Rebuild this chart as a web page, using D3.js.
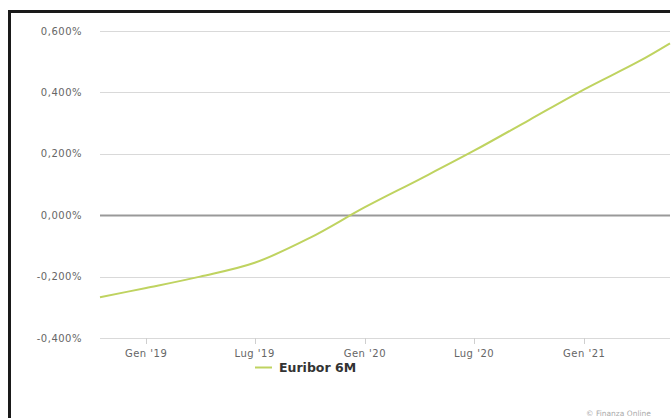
<!DOCTYPE html>
<html>
<head>
<meta charset="utf-8">
<script src="https://cdn.jsdelivr.net/npm/d3@7"></script>
<style>
  html, body { margin: 0; padding: 0; background: #fff; }
  svg { display: block; }
</style>
</head>
<body>
<div id="chart"></div>
<script>
// Euribor 6M curve, values in %
const dates = ['2018-10-16', '2019-01-01', '2019-04-01', '2019-07-01', '2019-10-01',
  '2020-01-01', '2020-04-01', '2020-07-01', '2020-10-01', '2021-01-01', '2021-04-01', '2021-05-24'];
const values = [-0.267, -0.237, -0.2, -0.155, -0.074,
  0.026, 0.117, 0.21, 0.31, 0.41, 0.5, 0.56];
const yTicks = [-0.4, -0.2, 0, 0.2, 0.4, 0.6];
const xTicks = ['2019-01-01', '2019-07-01', '2020-01-01', '2020-07-01', '2021-01-01'];
const xTickLabels = ["Gen '19", "Lug '19", "Gen '20", "Lug '20", "Gen '21"];
const seriesName = 'Euribor 6M';

const W = 671, H = 418;
const parse = d3.timeParse('%Y-%m-%d');
const data = dates.map((d, i) => ({ date: parse(d), value: values[i] }));

const svg = d3.select('#chart').append('svg')
  .attr('width', W).attr('height', H);

// frame (left + top only)
svg.append('path')
  .attr('d', `M9.5,${H} L9.5,11.5 L670,11.5`)
  .attr('fill', 'none').attr('stroke', '#1a1a1a').attr('stroke-width', 3);

const x = d3.scaleTime()
  .domain([parse('2018-10-16'), parse('2021-05-24')])
  .range([100, 670]);
const y = d3.scaleLinear().domain([-0.4, 0.6]).range([338, 31]);

const fmt = v => d3.format('.3f')(v).replace('.', ',').replace('−', '-') + '%';

// gridlines
svg.append('g').selectAll('line').data(yTicks).join('line')
  .attr('x1', 100).attr('x2', 670)
  .attr('y1', d => Math.round(y(d)) + 0.5).attr('y2', d => Math.round(y(d)) + 0.5)
  .attr('stroke', d => d === 0 ? '#999' : '#d9d9d9')
  .attr('stroke-width', d => d === 0 ? 2 : 1);

// y labels
svg.append('g').selectAll('text').data(yTicks).join('text')
  .attr('x', 82).attr('y', d => y(d))
  .attr('text-anchor', 'end').attr('dominant-baseline', 'central')
  .attr('font-family', 'DejaVu Sans').attr('font-size', 10)
  .attr('letter-spacing', 0.5)
  .attr('fill', '#666').text(fmt);

// x ticks
const xt = svg.append('g');
xt.selectAll('line').data(xTicks).join('line')
  .attr('x1', d => Math.round(x(parse(d))) + 0.5).attr('x2', d => Math.round(x(parse(d))) + 0.5)
  .attr('y1', 338).attr('y2', 344)
  .attr('stroke', '#cfcfcf');
xt.selectAll('text').data(xTicks).join('text')
  .attr('x', d => x(parse(d))).attr('y', 353)
  .attr('text-anchor', 'middle').attr('dominant-baseline', 'central')
  .attr('font-family', 'DejaVu Sans').attr('font-size', 10)
  .attr('letter-spacing', 0.5)
  .attr('fill', '#666').text((d, i) => xTickLabels[i]);

// series line
const line = d3.line().x(d => x(d.date)).y(d => y(d.value)).curve(d3.curveCatmullRom.alpha(0.5));
svg.append('path').datum(data)
  .attr('d', line)
  .attr('fill', 'none').attr('stroke', '#bfd360').attr('stroke-width', 2);

// legend
svg.append('line')
  .attr('x1', 255).attr('x2', 272).attr('y1', 367.5).attr('y2', 367.5)
  .attr('stroke', '#bfd360').attr('stroke-width', 2);
svg.append('text')
  .attr('x', 279).attr('y', 367)
  .attr('dominant-baseline', 'central')
  .attr('font-family', 'DejaVu Sans').attr('font-weight', 'bold').attr('font-size', 12.5)
  .attr('fill', '#333').text(seriesName);

// credits
svg.append('text')
  .attr('x', 586).attr('y', 416)
  .attr('font-family', 'DejaVu Sans').attr('font-size', 7.5)
  .attr('fill', '#aaa').text('© Finanza Online');
</script>
</body>
</html>
